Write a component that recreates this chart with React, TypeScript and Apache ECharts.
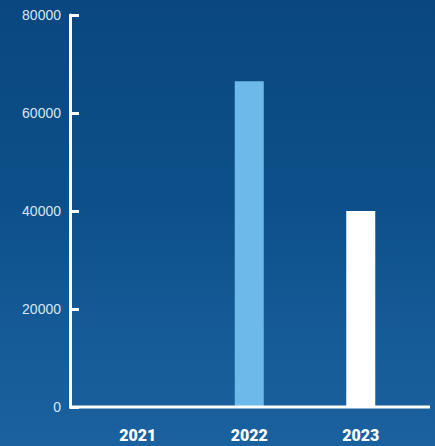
import React, { useEffect, useRef } from "react";
import * as echarts from "echarts";

const categories = ["2021", "2022", "2023"];
const values = [0, 66500, 40000];
const barColors = ["#6cb9ea", "#6cb9ea", "#ffffff"];
const yTicks = [0, 20000, 40000, 60000, 80000];

export default function App() {
  const ref = useRef<HTMLDivElement>(null);
  useEffect(() => {
    document.body.style.margin = "0";
    const chart = echarts.init(ref.current!, null, { renderer: "svg" });
    chart.setOption({
      animation: false,
      backgroundColor: {
        type: "linear",
        x: 0,
        y: 0,
        x2: 0,
        y2: 1,
        colorStops: [
          { offset: 0, color: "#0a4780" },
          { offset: 0.45, color: "#0d5089" },
          { offset: 0.75, color: "#155b97" },
          { offset: 1, color: "#1a619f" },
        ],
      },
      grid: { left: 82, top: 15, width: 334.5, bottom: 39 },
      xAxis: {
        type: "category",
        data: categories,
        axisLine: { show: false },
        axisTick: { show: false },
        axisLabel: {
          color: "#ffffff",
          fontSize: 16,
          fontWeight: 900,
          fontFamily: "Roboto",
          margin: 20,
        },
      },
      yAxis: {
        type: "value",
        min: yTicks[0],
        max: yTicks[yTicks.length - 1],
        interval: 20000,
        offset: 12,
        splitLine: { show: false },
        axisLine: { show: true, lineStyle: { color: "#ffffff", width: 3 } },
        axisTick: { show: true, inside: true, length: 9, lineStyle: { color: "#ffffff", width: 3 } },
        axisLabel: {
          color: "#d6e6f4",
          fontSize: 14,
          fontFamily: "Liberation Sans",
          margin: 9,
          formatter: (v: number) => String(v),
        },
      },
      graphic: [
        {
          type: "line",
          shape: { x1: 69, y1: 407, x2: 430, y2: 407 },
          style: { stroke: "#ffffff", lineWidth: 3 },
          z: 10,
        },
      ],
      series: [
        {
          type: "bar",
          barWidth: 29,
          data: values.map((v, i) => ({ value: v, itemStyle: { color: barColors[i] } })),
        },
      ],
    });
    return () => chart.dispose();
  }, []);
  return <div ref={ref} style={{ width: 435, height: 446, position: "fixed", left: 0, top: 0 }} />;
}
